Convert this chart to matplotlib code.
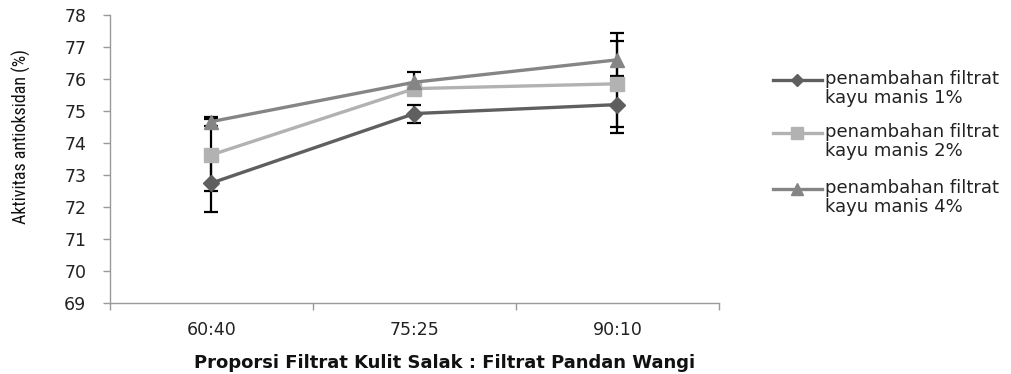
import matplotlib
matplotlib.use("Agg")
import matplotlib.pyplot as plt
from matplotlib.lines import Line2D
from matplotlib import font_manager
import numpy as np

categories = ["60:40", "75:25", "90:10"]
labels = ["penambahan filtrat\nkayu manis 1%",
          "penambahan filtrat\nkayu manis 2%",
          "penambahan filtrat\nkayu manis 4%"]
s1 = [72.75, 74.92, 75.20]
s2 = [73.63, 75.70, 75.85]
s3 = [74.67, 75.90, 76.60]
e1 = [0.91, 0.28, 0.90]
e2 = [1.13, 0.10, 1.35]
e3 = [0.14, 0.32, 0.85]
yticks = [69, 70, 71, 72, 73, 74, 75, 76, 77, 78]

colors = ["#5f5f5f", "#b2b2b2", "#858585"]
markers = ["D", "s", "^"]
msizes = [8, 10, 10]

available = {f.name for f in font_manager.fontManager.ttflist}
narrow = None
for cand in ["Liberation Sans Narrow", "Roboto Condensed", "Open Sans Condensed",
             "DejaVu Sans Condensed"]:
    if cand in available:
        narrow = cand
        break
if narrow is None:
    narrow = "Liberation Sans"
    ylab_size = 11.5
else:
    ylab_size = 13

MAIN = ["DejaVu Sans"]

fig = plt.figure(figsize=(10.12, 3.74), dpi=100)
ax = fig.add_axes([110/1012, 1-303/374, 609/1012, 288/374])

x = np.arange(len(categories))
series = [s1, s2, s3]
errs = [e1, e2, e3]
for s, e in zip(series, errs):
    ax.errorbar(x, s, yerr=e, fmt="none", ecolor="black", elinewidth=1.6,
                capsize=5, capthick=1.6, zorder=2)
for s, c, m, ms in zip(series, colors, markers, msizes):
    ax.plot(x, s, color=c, lw=2.4, marker=m, markersize=ms,
            markeredgecolor=c, zorder=3)

ax.set_xlim(-0.5, 2.5)
ax.set_ylim(69, 78)
ax.set_yticks(yticks)
ax.set_xticks(x)
ax.set_xticklabels(categories)
ax.set_xticks([-0.5, 0.5, 1.5, 2.5], minor=True)
ax.tick_params(axis="x", which="major", length=0, pad=13)
ax.tick_params(axis="x", which="minor", length=5, color="#9a9a9a", width=1)
ax.tick_params(axis="y", length=5, color="#9a9a9a", width=1, pad=12)
for lab in ax.get_xticklabels() + ax.get_yticklabels():
    lab.set_fontfamily(MAIN)
    lab.set_fontsize(12.5)
    lab.set_color("#222222")
for sp in ["top", "right"]:
    ax.spines[sp].set_visible(False)
for sp in ["left", "bottom"]:
    ax.spines[sp].set_color("#9a9a9a")
    ax.spines[sp].set_linewidth(1)

fig.text(21/1012, 1-137/374, "Aktivitas antioksidan (%)", rotation=90,
         ha="center", va="center", fontsize=ylab_size,
         family=[narrow, "DejaVu Sans"], color="#111111")
fig.text(445/1012, 1-368/374, "Proporsi Filtrat Kulit Salak : Filtrat Pandan Wangi",
         ha="center", va="baseline", fontsize=13, fontweight="bold",
         family=MAIN, color="#111111")

# legend drawn manually (Excel style: handle aligned with first text line)
leg_y = [80, 133, 189]
for yy, c, m, ms, lab in zip(leg_y, colors, markers, msizes, labels):
    fy = 1 - yy/374
    fig.add_artist(Line2D([773/1012, 822/1012], [fy, fy], color=c, lw=2.4,
                          transform=fig.transFigure))
    fig.add_artist(Line2D([797.5/1012], [fy], color=c, marker=m,
                          markersize=ms*0.8, markeredgecolor=c,
                          transform=fig.transFigure))
    fig.text(825/1012, 1-(yy-10)/374, lab, ha="left", va="top", fontsize=13,
             family=MAIN, color="#222222", linespacing=1.05)

fig.savefig("out.png", dpi=100)
